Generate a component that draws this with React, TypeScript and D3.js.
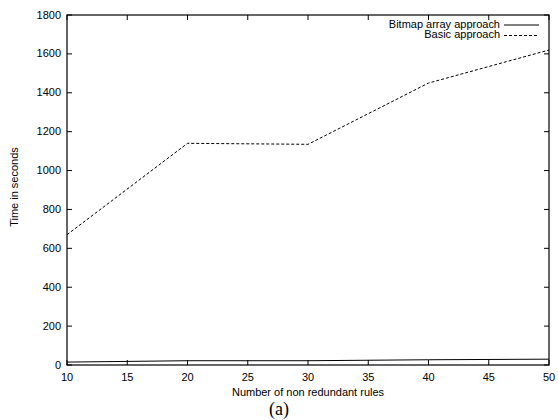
import React from 'react';
import * as d3 from 'd3';

// values
const rules = [10, 20, 30, 40, 50];
const bitmapTimes = [15, 22, 22, 27, 30];
const basicTimes = [670, 1140, 1135, 1450, 1620];
const xTicks = [10, 15, 20, 25, 30, 35, 40, 45, 50];
const yTicks = [0, 200, 400, 600, 800, 1000, 1200, 1400, 1600, 1800];

const W = 558;
const H = 420;
const m = { left: 67, top: 15, right: 549, bottom: 365 };
const SX = 1.1; // the original text looks a bit stretched sideways

function T({ x, y, anchor = 'start', rot = 0, children }: any) {
  return (
    <text transform={`translate(${x},${y}) rotate(${rot}) scale(${SX},1)`} textAnchor={anchor}>
      {children}
    </text>
  );
}

export default function App() {
  const x = d3.scaleLinear().domain([10, 50]).range([m.left, m.right]);
  const y = d3.scaleLinear().domain([0, 1800]).range([m.bottom, m.top]);
  const line = d3.line<number>().x((_, i) => x(rules[i])).y(d => y(d));
  const font = '"Liberation Sans", Arial, sans-serif';
  const tick = 5;

  return (
    <svg width={W} height={H} style={{ position: 'absolute', left: 0, top: 0, background: '#fff' }}>
      <g fontFamily={font} fontSize={10} fill="#000">
        {xTicks.map(t => (
          <g key={'x' + t}>
            <line x1={x(t)} x2={x(t)} y1={m.bottom} y2={m.bottom - tick} stroke="#000" />
            <line x1={x(t)} x2={x(t)} y1={m.top} y2={m.top + tick} stroke="#000" />
            <T x={x(t)} y={m.bottom + 16} anchor="middle">{t}</T>
          </g>
        ))}
        {yTicks.map(t => (
          <g key={'y' + t}>
            <line x1={m.left} x2={m.left + tick} y1={y(t)} y2={y(t)} stroke="#000" />
            <line x1={m.right} x2={m.right - tick} y1={y(t)} y2={y(t)} stroke="#000" />
            <T x={m.left - 6} y={y(t) + 3.5} anchor="end">{t}</T>
          </g>
        ))}
        <rect x={m.left} y={m.top} width={m.right - m.left} height={m.bottom - m.top}
          fill="none" stroke="#000" strokeWidth={1.2} />
        <path d={line(bitmapTimes) ?? ''} fill="none" stroke="#000" strokeWidth={1} />
        <path d={line(basicTimes) ?? ''} fill="none" stroke="#000" strokeWidth={1} strokeDasharray="3,2" />

        <T x={500} y={28} anchor="end">Bitmap array approach</T>
        <line x1={504} x2={539} y1={25} y2={25} stroke="#000" />
        <T x={500} y={38} anchor="end">Basic approach</T>
        <line x1={504} x2={539} y1={35.5} y2={35.5} stroke="#000" strokeDasharray="3,2" />

        <T x={(m.left + m.right) / 2} y={396} anchor="middle">Number of non redundant rules</T>
        <T x={18} y={187} anchor="middle" rot={-90}>Time in seconds</T>
      </g>
      <text x={279} y={415} textAnchor="middle" fontFamily='"Liberation Serif", "DejaVu Serif", serif' fontSize={18}>(a)</text>
    </svg>
  );
}
